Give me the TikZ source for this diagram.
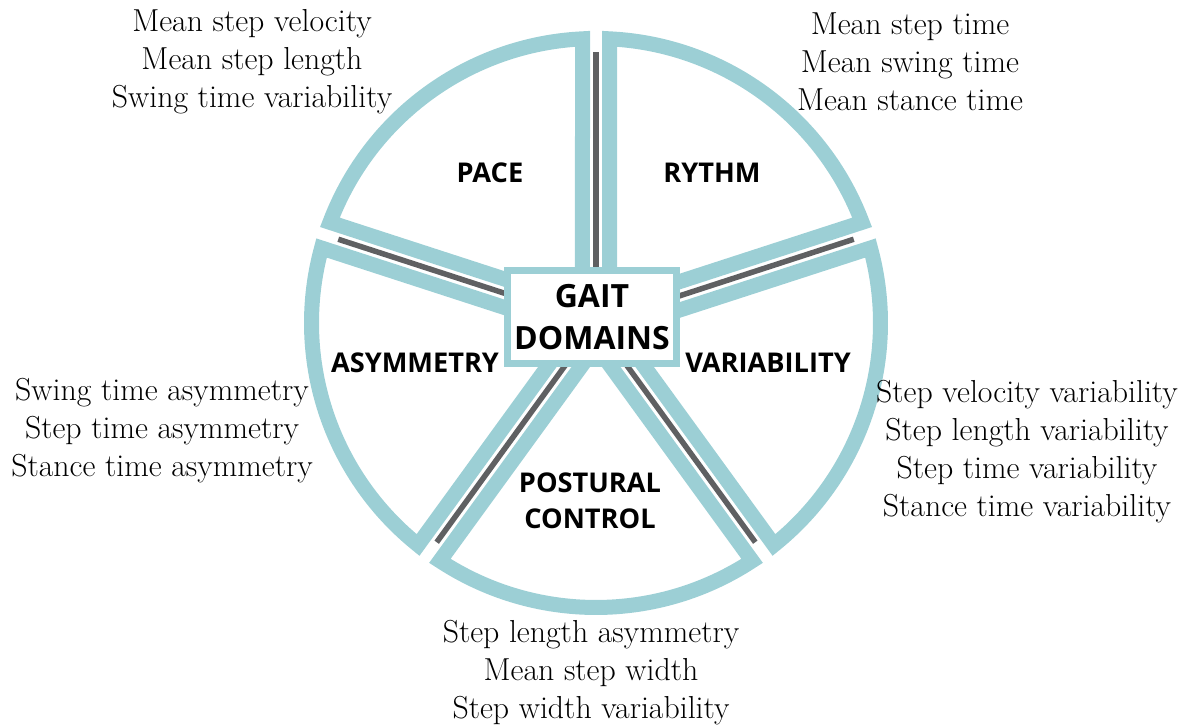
\documentclass[tikz,border=0pt]{standalone}
\usepackage{fontspec}
\setsansfont{Open Sans}
\definecolor{gaitblue}{RGB}{156,207,213}
\definecolor{gaitgray}{RGB}{95,96,98}
\begin{document}
\begin{tikzpicture}[x=0.5pt,y=0.5pt,
	sector/.style={draw=gaitblue,line width=7.5pt,line join=miter},
	divider/.style={draw=gaitgray,line width=2.75pt},
	domainlabel/.style={font=\sffamily\bfseries\fontsize{13.6}{18}\selectfont,align=center},
	measure/.style={font=\fontsize{15.9}{19}\selectfont,align=center}]
	\useasboundingbox (0,0) rectangle (1184,728);
	\coordinate (C) at (596,405);
	\foreach \m in {126,54,-18,-90,198}
		\draw[sector,shift={(C)},rotate=\m] (23,0) -- (33.28:284.5) arc[start angle=33.28,end angle=-33.28,radius=284.5] -- cycle;
	\foreach \a in {90,18,-54,-126,162}
		\draw[divider] (C) -- ++(\a:271);
	\node[draw=gaitblue,fill=white,line width=3.5pt,minimum width=83.5pt,minimum height=46.5pt,
		font=\sffamily\bfseries\fontsize{16}{21}\selectfont,align=center] (gait) at (592,411) {GAIT\\DOMAINS};
	\node[domainlabel] (pace) at (490,555) {PACE};
	\node[domainlabel] (rythm) at (712,555) {RYTHM};
	\node[domainlabel] (asym) at (415,365) {ASYMMETRY};
	\node[domainlabel] (var) at (768,365) {VARIABILITY};
	\node[domainlabel] (post) at (590,227) {POSTURAL\\CONTROL};
	\node[measure] (paceList) at (252,666) {Mean step velocity\\Mean step length\\Swing time variability};
	\node[measure] (rythmList) at (910,666) {Mean step time\\Mean swing time\\Mean stance time};
	\node[measure] (asymList) at (162,297) {Swing time asymmetry\\Step time asymmetry\\Stance time asymmetry};
	\node[measure] (varList) at (1027,276) {Step velocity variability\\Step length variability\\Step time variability\\Stance time variability};
	\node[measure] (postList) at (591,55) {Step length asymmetry\\Mean step width\\Step width variability};
\end{tikzpicture}
\end{document}
